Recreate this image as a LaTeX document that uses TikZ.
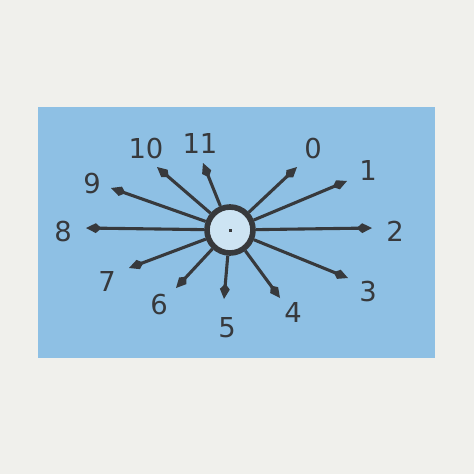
\documentclass[tikz,border=0pt]{standalone}
\usepackage{fontspec}
\setsansfont{DejaVu Sans}
\usetikzlibrary{arrows.meta,positioning}
\definecolor{paperWhite}{RGB}{240,240,236}
\definecolor{dotBlue}{RGB}{142,192,228}
\definecolor{hubBlue}{RGB}{205,228,243}
\definecolor{inkGray}{RGB}{55,57,60}
\tikzset{
  ray/.style={-{Kite[length=11pt,width=7pt,inset=4pt]},line width=2.2pt,inkGray},
  num/.style={font=\sffamily\fontsize{19.5}{22}\selectfont,text=inkGray,inner sep=0pt}
}
\begin{document}
\begin{tikzpicture}[x=0.025cm,y=-0.025cm]
  % paper and blue card
  \useasboundingbox[fill=paperWhite] (0,0) rectangle (474,474);
  \fill[dotBlue] (38,107) rectangle (435,358);
  % hub
  \node[circle,draw=inkGray,line width=4pt,fill=hubBlue,minimum size=1.15cm,inner sep=0pt]
    (hub) at (230,230) {};
  \fill[inkGray] (228.5,228.5) rectangle (231.5,231.5);
  % arrow tips
  \coordinate (t0) at (297,167);
  \coordinate (t1) at (347,181);
  \coordinate (t2) at (372,228);
  \coordinate (t3) at (348,278);
  \coordinate (t4) at (280,298);
  \coordinate (t5) at (224,299);
  \coordinate (t6) at (176,288);
  \coordinate (t7) at (129,268);
  \coordinate (t8) at (86,228);
  \coordinate (t9) at (111,188);
  \coordinate (t10) at (157,167);
  \coordinate (t11) at (203,163);
  % rays
  \foreach \k in {0,...,11}
    \draw[ray] (hub) -- (t\k);
  % numbers
  \node[num] (l0) at (313,149) {0};
  \node[num] (l1) at (368,171) {1};
  \node[num] (l2) at (395,231) {2};
  \node[num] (l3) at (368,292) {3};
  \node[num] (l4) at (293,313) {4};
  \node[num] (l5) at (227,328) {5};
  \node[num] (l6) at (159,305) {6};
  \node[num] (l7) at (107,282) {7};
  \node[num] (l8) at (63,232) {8};
  \node[num] (l9) at (92,184) {9};
  \node[num] (l10) at (146,149) {10};
  \node[num] (l11) at (200,144) {11};
\end{tikzpicture}
\end{document}
